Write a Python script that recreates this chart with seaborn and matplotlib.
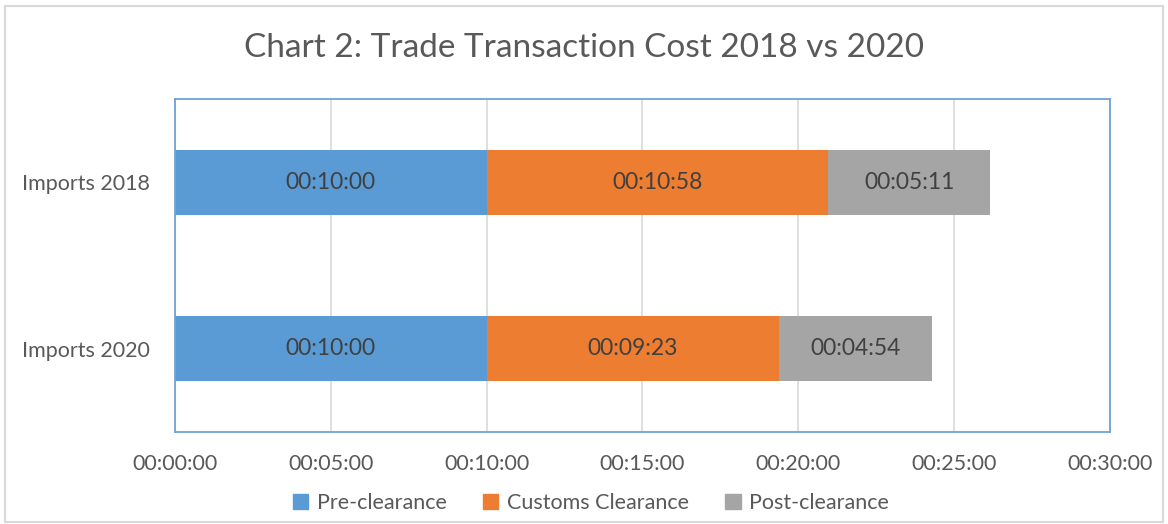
import pandas as pd
import seaborn as sns
import matplotlib.pyplot as plt
from matplotlib.ticker import FuncFormatter, MultipleLocator
from matplotlib.patches import Rectangle

categories = ["Imports 2018", "Imports 2020"]
stages = ["Pre-clearance", "Customs Clearance", "Post-clearance"]
pre_clearance = ["00:10:00", "00:10:00"]
customs_clearance = ["00:10:58", "00:09:23"]
post_clearance = ["00:05:11", "00:04:54"]
colors = ["#5B9BD5", "#ED7D31", "#A5A5A5"]

sns.set_theme(style="white")
plt.rcParams["font.family"] = ["Lato", "DejaVu Sans"]
text_col = "#595959"

df = pd.DataFrame({"category": categories})
for name, vals in zip(stages, [pre_clearance, customs_clearance, post_clearance]):
    df[name] = pd.to_timedelta(vals).total_seconds() / 60  # minutes

fig = plt.figure(figsize=(11.68, 5.24), dpi=100)
ax = fig.add_axes([0.1498, 0.1756, 0.8005, 0.6354])

# stacked: draw cumulative totals from the back to the front
cum = df[stages].cumsum(axis=1)
for i in reversed(range(len(stages))):
    sns.barplot(data=cum, x=stages[i], y=df["category"], orient="h",
                color=colors[i], saturation=1, width=0.39, linewidth=0,
                ax=ax, zorder=2)

def fmt(m, pos=None):
    s = int(round(m * 60))
    return f"{s // 3600:02d}:{(s % 3600) // 60:02d}:{s % 60:02d}"

# segment labels
for j in range(len(df)):
    left = 0
    for name in stages:
        v = df.loc[j, name]
        ax.text(left + v / 2, j, fmt(v), ha="center", va="center",
                fontsize=16.5, color="#404040", zorder=3)
        left += v

ax.set_xlim(0, 30)
ax.xaxis.set_major_locator(MultipleLocator(5))
ax.xaxis.set_major_formatter(FuncFormatter(fmt))
ax.grid(axis="x", color="#D9D9D9", linewidth=1.2, zorder=0)
ax.set_axisbelow(True)
ax.set_xlabel("")
ax.set_ylabel("")
ax.tick_params(axis="y", length=0, labelsize=15.5, colors=text_col, pad=18)
ax.tick_params(axis="x", length=0, labelsize=15.5, colors=text_col, pad=16)
for sp in ax.spines.values():
    sp.set_color("#6FA3D8")
    sp.set_linewidth(1.3)

fig.suptitle("Chart 2: Trade Transaction Cost 2018 vs 2020", fontsize=24,
             color=text_col, y=0.937)

handles = [Rectangle((0, 0), 1, 1, color=c) for c in colors]
fig.legend(handles, stages, loc="center", bbox_to_anchor=(0.506, 0.04), ncol=3,
           frameon=False, fontsize=15.5, handlelength=0.7, handleheight=0.7,
           handletextpad=0.4, columnspacing=1.7, labelcolor=text_col)

fig.patches.append(Rectangle((0.004, 0.004), 0.992, 0.984, transform=fig.transFigure,
                             fill=False, edgecolor="#D9D9D9", linewidth=1.5))

fig.savefig("out.png", dpi=100)
